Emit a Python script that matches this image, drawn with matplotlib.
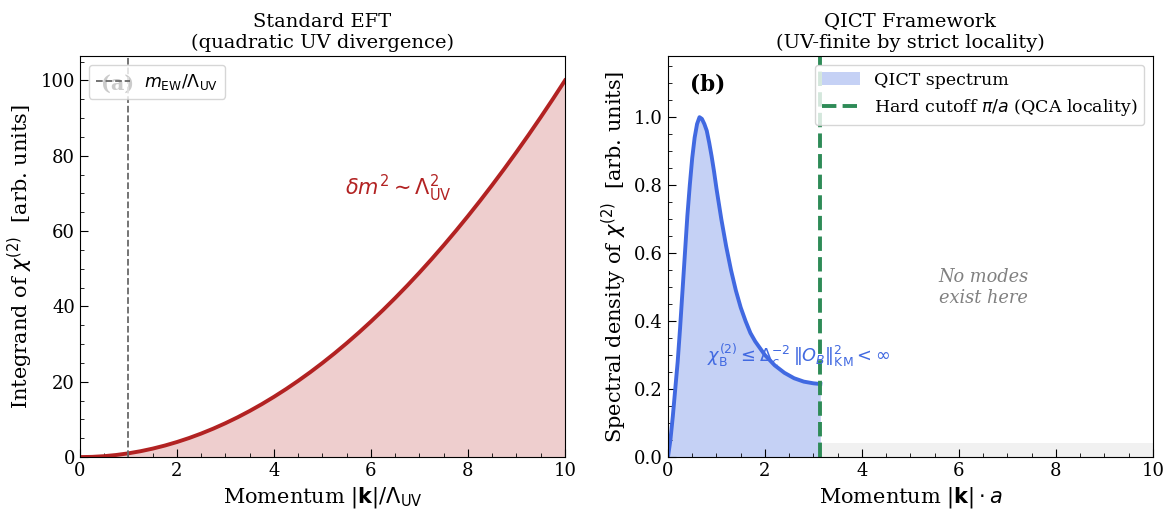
import matplotlib
matplotlib.use("Agg")
from matplotlib import pyplot as plt
from matplotlib.ticker import AutoMinorLocator

# left panel: integrand vs momentum
k_eft = [0, 0.25, 0.5, 0.75, 1, 1.25, 1.5, 1.75, 2, 2.25, 2.5, 2.75, 3, 3.25, 3.5, 3.75,
         4, 4.25, 4.5, 4.75, 5, 5.25, 5.5, 5.75, 6, 6.25, 6.5, 6.75, 7, 7.25, 7.5, 7.75,
         8, 8.25, 8.5, 8.75, 9, 9.25, 9.5, 9.75, 10]
integrand = [0, 0.06, 0.25, 0.56, 1, 1.56, 2.25, 3.06, 4, 5.06, 6.25, 7.56, 9, 10.56,
             12.25, 14.06, 16, 18.06, 20.25, 22.56, 25, 27.56, 30.25, 33.06, 36, 39.06,
             42.25, 45.56, 49, 52.56, 56.25, 60.06, 64, 68.06, 72.25, 76.56, 81, 85.56,
             90.25, 95.06, 100]
k_ew = 1.0

# right panel: spectral density up to the lattice cutoff
k_qict = [0, 0.05, 0.1, 0.15, 0.2, 0.25, 0.3, 0.35, 0.4, 0.45, 0.5, 0.55, 0.6, 0.65,
          0.7, 0.75, 0.8, 0.85, 0.9, 0.95, 1.0, 1.1, 1.2, 1.3, 1.4, 1.5, 1.6, 1.7, 1.8,
          1.9, 2.0, 2.2, 2.4, 2.6, 2.8, 3.0, 3.14159]
density = [0, 0.05, 0.12, 0.20, 0.28, 0.38, 0.49, 0.60, 0.71, 0.80, 0.88, 0.94, 0.98,
           1.0, 0.995, 0.98, 0.96, 0.925, 0.885, 0.84, 0.79, 0.70, 0.62, 0.55, 0.49,
           0.44, 0.40, 0.365, 0.34, 0.32, 0.30, 0.27, 0.248, 0.232, 0.222, 0.217, 0.215]
k_cut = 3.14159

plt.rcParams["font.family"] = "DejaVu Serif"
plt.rcParams["mathtext.fontset"] = "dejavusans"
plt.rcParams["xtick.direction"] = "in"
plt.rcParams["ytick.direction"] = "in"

fig, (ax1, ax2) = plt.subplots(1, 2, figsize=(11.69, 5.09), dpi=100)
ax1.set_position([0.0684, 0.102, 0.4149, 0.788])
ax2.set_position([0.5714, 0.102, 0.4149, 0.788])

red = "#B22222"
blue = "#4169E1"
green = "#2E8B57"

# (a) standard EFT
ax1.fill_between(k_eft, 0, integrand, color=red, alpha=0.22, lw=0)
ax1.plot(k_eft, integrand, color=red, lw=2.8)
ax1.axvline(k_ew, color="dimgray", ls="--", lw=1.3, label=r"$m_{\rm EW}/\Lambda_{\rm UV}$")
ax1.text(6.56, 71.4, r"$\delta m^2 \sim \Lambda_{\rm UV}^2$", color=red, fontsize=15,
         ha="center", va="center")
ax1.text(0.043, 0.93, "(a)", transform=ax1.transAxes, fontsize=15, fontweight="bold",
         va="center", zorder=1)
ax1.legend(loc="upper left", fontsize=12.5, handlelength=2.0, borderpad=0.4)
ax1.set_xlim(0, 10)
ax1.set_ylim(0, 106.5)
ax1.set_xlabel(r"Momentum $|\mathbf{k}|/\Lambda_{\rm UV}$", fontsize=15)
ax1.set_ylabel(r"Integrand of $\chi^{(2)}$  [arb. units]", fontsize=15)
ax1.set_title("Standard EFT\n(quadratic UV divergence)", fontsize=14)

# (b) QICT framework
ax2.fill_between(k_qict, 0, density, color=blue, alpha=0.3, lw=0, label="QICT spectrum")
ax2.plot(k_qict, density, color=blue, lw=2.8)
ax2.axvline(k_cut, color=green, ls="--", lw=2.8, label=r"Hard cutoff $\pi/a$ (QCA locality)")
ax2.fill_between([k_cut, 10], 0, 0.04, color="lightgray", alpha=0.3, lw=0)
ax2.text(2.70, 0.30, r"$\chi_{\rm B}^{(2)} \leq \Delta_c^{-2}\,\|O_B\|^2_{\rm KM} < \infty$",
         color=blue, fontsize=12.8, ha="center", va="center")
ax2.text(6.5, 0.50, "No modes\nexist here", color="gray", fontsize=12.8, style="italic",
         ha="center", va="center")
ax2.text(0.045, 0.93, "(b)", transform=ax2.transAxes, fontsize=15.5, fontweight="bold",
         va="center")
ax2.legend(loc="upper right", fontsize=12.5, handlelength=2.2, borderpad=0.4)
ax2.set_xlim(0, 10)
ax2.set_ylim(0, 1.18)
ax2.set_xlabel(r"Momentum $|\mathbf{k}|\cdot a$", fontsize=15)
ax2.set_ylabel(r"Spectral density of $\chi^{(2)}$  [arb. units]", fontsize=15)
ax2.set_title("QICT Framework\n(UV-finite by strict locality)", fontsize=14)

for ax in (ax1, ax2):
    ax.xaxis.set_minor_locator(AutoMinorLocator())
    ax.yaxis.set_minor_locator(AutoMinorLocator())
    ax.tick_params(which="major", length=6, labelsize=13)
    ax.tick_params(which="minor", length=3)

fig.savefig("out.png", dpi=100)
